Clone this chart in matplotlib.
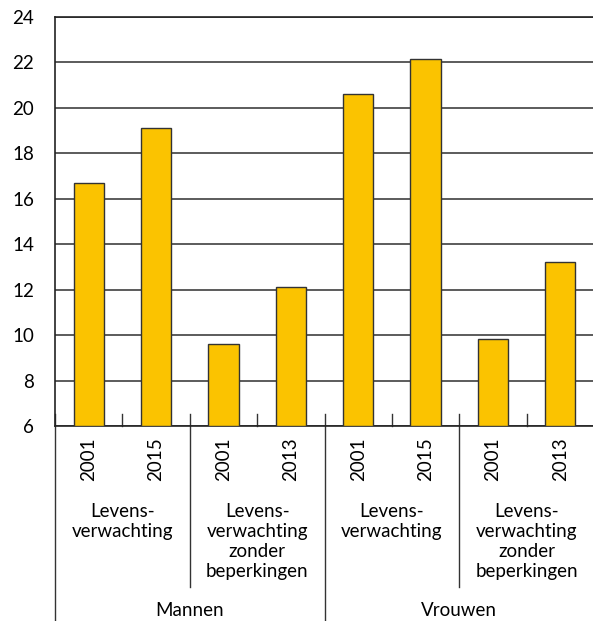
import matplotlib
matplotlib.use("Agg")
import matplotlib.pyplot as plt
import matplotlib.transforms as mtransforms

years = ["2001", "2015", "2001", "2013", "2001", "2015", "2001", "2013"]
values = [16.7, 19.1, 9.6, 12.1, 20.6, 22.15, 9.85, 13.2]
categories = ["Levens-\nverwachting", "Levens-\nverwachting\nzonder\nbeperkingen",
              "Levens-\nverwachting", "Levens-\nverwachting\nzonder\nbeperkingen"]
genders = ["Mannen", "Vrouwen"]

plt.rcParams['font.family'] = ['Lato', 'DejaVu Sans']
plt.rcParams['font.size'] = 13

fig = plt.figure(figsize=(5.93, 6.21), dpi=100)
ax = fig.add_axes([55 / 593, 1 - 426 / 621, 539 / 593, 409 / 621])

x = list(range(len(values)))
ax.bar(x, [v - 6 for v in values], bottom=6, width=0.45, color="#FBC300",
       edgecolor="#333333", linewidth=1, zorder=3)

ax.set_xlim(-0.5, len(values) - 0.5)
ax.set_ylim(6, 24)
ax.set_yticks(range(6, 25, 2))
ax.yaxis.grid(True, color="#404040", linewidth=1.2, zorder=0)
ax.set_xticks([])
ax.tick_params(axis="y", length=0, pad=15, labelsize=13.5)
ax.spines["right"].set_visible(False)
for s in ["left", "top", "bottom"]:
    ax.spines[s].set_color("#222222")
    ax.spines[s].set_linewidth(1.2)

trans = mtransforms.blended_transform_factory(ax.transData, ax.transAxes)
up = 12 / 409

def vline(xp, y0, y1):
    ax.plot([xp, xp], [y0, y1], color="#333333", linewidth=1, transform=trans, clip_on=False)

# small ticks between bars, group and gender separators
for i in range(0, len(values), 2):
    vline(i + 0.5, 0, up)
for xp in [1.5, 5.5]:
    vline(xp, up, (426 - 587) / 409)
for xp in [-0.5, 3.5, 7.5]:
    vline(xp, up, (426 - 621) / 409)

for xi, yr in zip(x, years):
    ax.text(xi, (426 - 459) / 409, yr, rotation=90, ha="center", va="center",
            transform=trans, fontsize=13.5)

for j, cat in enumerate(categories):
    ax.text(2 * j + 0.5, (426 - 503) / 409, cat, ha="center", va="top",
            transform=trans, fontsize=13.5, linespacing=1.22)

for k, g in enumerate(genders):
    ax.text(4 * k + 1.5, (426 - 611) / 409, g, ha="center", va="center",
            transform=trans, fontsize=13.5)

fig.savefig("out.png", dpi=100)
